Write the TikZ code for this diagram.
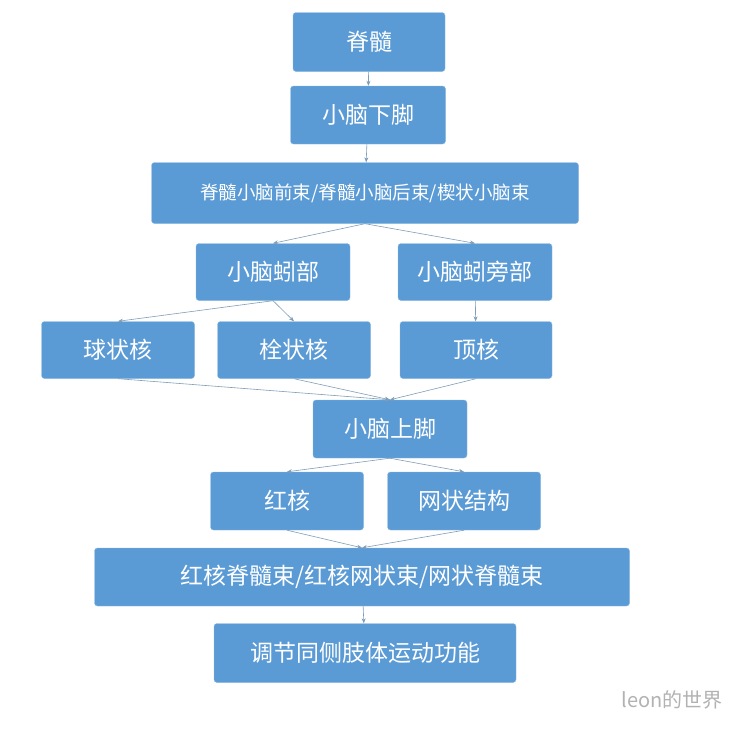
\documentclass[tikz,border=0pt]{standalone}
\usepackage{fontspec}
\setmainfont{Noto Sans CJK SC}
\usetikzlibrary{arrows.meta}
\definecolor{boxblue}{HTML}{5B9BD5}
\definecolor{linegrey}{HTML}{7F9DB9}

\begin{document}
\begin{tikzpicture}[
  x=1pt, y=-1pt,
  every node/.style={draw=boxblue!70!white, fill=boxblue, rounded corners=3pt,
    text=white, font=\fontsize{23}{26}\selectfont, inner sep=0pt},
  arr/.style={-{Stealth[length=5pt,width=4pt]}, draw=linegrey, line width=0.6pt}
]
  \useasboundingbox (0,0) rectangle (748,734);
  \node[minimum width=152pt, minimum height=59pt] (spine) at (369,42) {脊髓};
  \node[minimum width=155pt, minimum height=58pt] (icp) at (368,115) {小脑下脚};
  \node[minimum width=427pt, minimum height=61pt, font=\fontsize{18.5}{22}\selectfont] (tracts) at (365,193) {脊髓小脑前束/脊髓小脑后束/楔状小脑束};
  \node[minimum width=154pt, minimum height=57pt] (vermis) at (273,272) {小脑蚓部};
  \node[minimum width=154pt, minimum height=57pt] (paraverm) at (475,272) {小脑蚓旁部};
  \node[minimum width=153pt, minimum height=57pt] (globose) at (118,350) {球状核};
  \node[minimum width=153pt, minimum height=57pt] (embolif) at (294,350) {栓状核};
  \node[minimum width=152pt, minimum height=57pt] (fastig) at (476,350) {顶核};
  \node[minimum width=154pt, minimum height=58pt] (scp) at (390,429) {小脑上脚};
  \node[minimum width=153pt, minimum height=58pt] (rednuc) at (287,501) {红核};
  \node[minimum width=153pt, minimum height=58pt] (retic) at (464,501) {网状结构};
  \node[minimum width=535pt, minimum height=58pt] (outtracts) at (362,577) {红核脊髓束/红核网状束/网状脊髓束};
  \node[minimum width=302pt, minimum height=59pt] (motor) at (365,653) {调节同侧肢体运动功能};
  \node[draw=none, fill=none, rounded corners=0pt, text=black!30, font=\fontsize{20}{22}\selectfont] (mark) at (672,700) {leon的世界};

  \draw[arr] (spine) -- (icp);
  \draw[arr] (icp) -- (tracts);
  \draw[arr] (tracts.south) -- (vermis.north);
  \draw[arr] (tracts.south) -- (paraverm.north);
  \draw[arr] (vermis.south) -- (globose.north);
  \draw[arr] (vermis.south) -- (embolif.north);
  \draw[arr] (paraverm) -- (fastig);
  \draw[arr] (globose.south) -- (scp.north);
  \draw[arr] (embolif.south) -- (scp.north);
  \draw[arr] (fastig.south) -- (scp.north);
  \draw[arr] (scp.south) -- (rednuc.north);
  \draw[arr] (scp.south) -- (retic.north);
  \draw[arr] (rednuc.south) -- (outtracts.north);
  \draw[arr] (retic.south) -- (outtracts.north);
  \draw[arr] (outtracts) -- (motor);
\end{tikzpicture}
\end{document}
